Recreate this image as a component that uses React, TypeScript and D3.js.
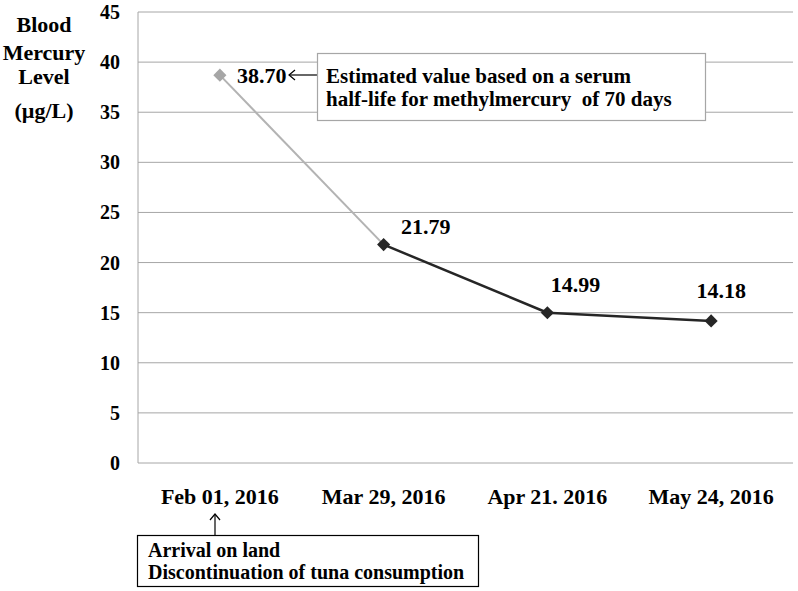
import React from "react";
import * as d3 from "d3";

const dates = ["Feb 01, 2016", "Mar 29, 2016", "Apr 21. 2016", "May 24, 2016"];
const mercury = [38.7, 21.79, 14.99, 14.18];
const valueLabels = ["38.70", "21.79", "14.99", "14.18"];
const yTicks = [0, 5, 10, 15, 20, 25, 30, 35, 40, 45];
const yTitle = ["Blood", "Mercury", "Level", "(\u00b5g/L)"];
const estimateNote = ["Estimated value based on a serum", "half-life for methylmercury  of 70 days"];
const arrivalNote = ["Arrival on land", "Discontinuation of tuna consumption"];

// where each value label sits relative to its point
const labelOffsets = [
  [17, 8],
  [42, -11],
  [28, -21],
  [10, -23],
];

const left = 138;
const right = 793;
const top = 12;
const bottom = 463;

const x = d3.scalePoint<string>().domain(dates).range([left, right]).padding(0.5);
const y = d3.scaleLinear().domain([0, 45]).range([bottom, top]);

type Pt = { d: string; v: number };
const pts: Pt[] = dates.map((d, i) => ({ d, v: mercury[i] }));
const line = d3
  .line<Pt>()
  .x((p) => x(p.d)!)
  .y((p) => y(p.v));
const diamond = d3.symbol().type(d3.symbolDiamond2).size(110)()!;

const txt = (size: number) => ({
  fontFamily: "Liberation Serif",
  fontWeight: "bold",
  fontSize: size,
  xmlSpace: "preserve",
});

const grid = "#a6a6a6";

const App = () => (
  <svg width={798} height={591} style={{ position: "absolute", left: 0, top: 0, background: "#fff" }}>
    {yTicks.map((t) => (
      <line key={"g" + t} x1={left} x2={right} y1={y(t)} y2={y(t)} stroke={grid} strokeWidth={1} />
    ))}
    <line x1={left} x2={left} y1={y(45)} y2={y(0)} stroke={grid} strokeWidth={1} />

    {yTicks.map((t) => (
      <text key={"t" + t} x={120} y={y(t) + 7} textAnchor="end" {...txt(20)}>
        {t}
      </text>
    ))}

    {yTitle.map((s, i) => (
      <text key={s} x={44} y={[32, 60, 84, 118][i]} textAnchor="middle" {...txt(22)}>
        {s}
      </text>
    ))}

    {dates.map((d) => (
      <text key={d} x={x(d)} y={504} textAnchor="middle" {...txt(22)}>
        {d}
      </text>
    ))}

    <path d={line(pts.slice(0, 2))!} fill="none" stroke="#b3b3b3" strokeWidth={2} />
    <path d={line(pts.slice(1))!} fill="none" stroke="#262626" strokeWidth={2.5} strokeLinejoin="round" />
    {pts.map((p, i) => (
      <path
        key={"m" + i}
        d={diamond}
        transform={`translate(${x(p.d)},${y(p.v)})`}
        fill={i === 0 ? "#a6a6a6" : "#262626"}
      />
    ))}

    {pts.map((p, i) => (
      <text
        key={"v" + i}
        x={x(p.d)! + labelOffsets[i][0]}
        y={y(p.v) + labelOffsets[i][1]}
        textAnchor={i === 0 ? "start" : "middle"}
        {...txt(22)}
      >
        {valueLabels[i]}
      </text>
    ))}

    {/* arrow from the note to the estimated value */}
    <line x1={289} x2={317} y1={75} y2={75} stroke="#000" strokeWidth={1.2} />
    <path d="M295,70 L289,75 L295,80" fill="none" stroke="#000" strokeWidth={1.2} />
    <rect x={317.5} y={53.5} width={388} height={67} fill="#fff" stroke={grid} strokeWidth={1.2} />
    {estimateNote.map((s, i) => (
      <text key={s} x={326} y={83 + i * 23} {...txt(21)}>
        {s}
      </text>
    ))}

    {/* arrival note */}
    <line x1={215} x2={215} y1={514} y2={535} stroke="#000" strokeWidth={1.2} />
    <path d="M210,520 L215,514 L220,520" fill="none" stroke="#000" strokeWidth={1.2} />
    <rect x={137.5} y={535.5} width={341} height={51} fill="#fff" stroke="#000" strokeWidth={1.2} />
    {arrivalNote.map((s, i) => (
      <text key={s} x={148} y={557 + i * 22} {...txt(20)}>
        {s}
      </text>
    ))}
  </svg>
);

export default App;
